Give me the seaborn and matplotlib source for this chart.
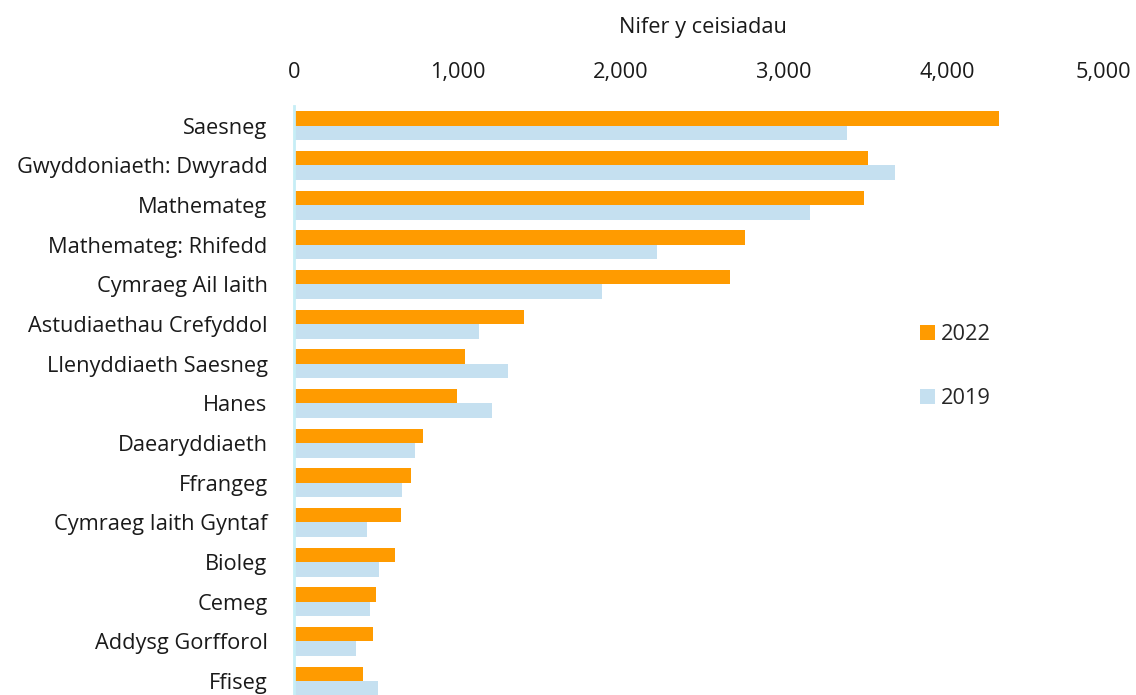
import matplotlib
matplotlib.use("Agg")
import matplotlib.pyplot as plt
import matplotlib.transforms as mtransforms
import seaborn as sns
import pandas as pd

subjects = ["Saesneg", "Gwyddoniaeth: Dwyradd", "Mathemateg", "Mathemateg: Rhifedd",
            "Cymraeg Ail Iaith", "Astudiaethau Crefyddol", "Llenyddiaeth Saesneg", "Hanes",
            "Daearyddiaeth", "Ffrangeg", "Cymraeg Iaith Gyntaf", "Bioleg", "Cemeg",
            "Addysg Gorfforol", "Ffiseg"]
vals_2022 = [4312, 3511, 3486, 2758, 2667, 1407, 1046, 997, 789, 716, 654, 618, 500, 483, 425]
vals_2019 = [3382, 3676, 3156, 2220, 1884, 1131, 1309, 1211, 740, 660, 446, 520, 465, 379, 514]
years = ["2022", "2019"]
xticks = [0, 1000, 2000, 3000, 4000, 5000]

df = pd.DataFrame({
    "subject": subjects * 2,
    "value": vals_2022 + vals_2019,
    "year": ["2022"] * len(subjects) + ["2019"] * len(subjects),
})

sns.set_theme(style="white")
plt.rcParams["font.family"] = ["Open Sans", "DejaVu Sans"]

fig = plt.figure(figsize=(11.36, 6.95), dpi=100)
ax = fig.add_axes([294 / 1136, 0, (1111 - 294) / 1136, 589 / 695])

sns.barplot(data=df, y="subject", x="value", hue="year", hue_order=years,
            order=subjects, palette={"2022": "#FF9B00", "2019": "#C5E0F0"},
            width=0.73, gap=0, orient="h", ax=ax, saturation=1, linewidth=0)

fs = 15.7
ax.set_xlim(0, 5000)
ax.set_ylim(14.35, -0.5)
ax.xaxis.tick_top()
ax.xaxis.set_label_position("top")
ax.set_xticks(xticks)
ax.set_xticklabels([f"{t:,}" for t in xticks])
ax.tick_params(axis="x", length=0, pad=16.5, labelsize=fs, colors="#1a1a1a")
ax.tick_params(axis="y", length=0, pad=19, labelsize=fs, colors="#1a1a1a")
ax.set_xlabel("Nifer y ceisiadau", fontsize=fs, color="#1a1a1a")
ax.xaxis.label.set_va("center")
ax.xaxis.set_label_coords(0.5, (695 - 28) / 589)
ax.set_ylabel("")
for s in ["top", "right", "bottom"]:
    ax.spines[s].set_visible(False)
ax.spines["left"].set_color("#C6EEF6")
ax.spines["left"].set_linewidth(2)

last = ax.get_xticklabels()[-1]
last.set_transform(last.get_transform() + mtransforms.ScaledTranslation(-8 / 100, 0, fig.dpi_scale_trans))

leg = ax.legend(loc="upper left", bbox_to_anchor=(0.755, 0.645), frameon=False,
                fontsize=fs, labelspacing=2.0, handlelength=0.7, handleheight=0.7,
                handletextpad=0.3, borderaxespad=0)

fig.savefig("out.png", dpi=100)
